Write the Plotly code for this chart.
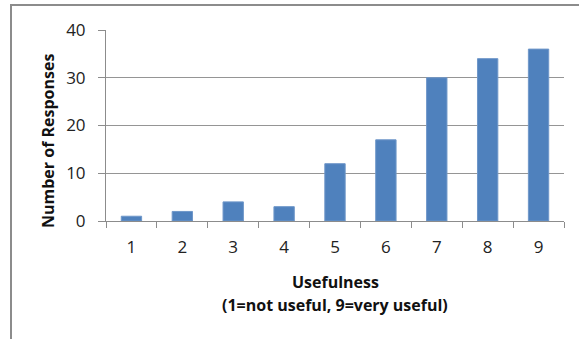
import plotly.graph_objects as go

categories = ["1", "2", "3", "4", "5", "6", "7", "8", "9"]
responses = [1, 2, 4, 3, 12, 17, 30, 34, 36]
y_ticks = [0, 10, 20, 30, 40]

W, H = 579, 339
L, R, T, B = 106, 15, 30, 118
pw, ph = W - L - R, H - T - B

def px(x):
    return (x - L) / pw

def py(y):
    return (H - B - y) / ph

fig = go.Figure()
fig.add_trace(go.Bar(
    x=categories, y=responses,
    marker=dict(color="#4F81BD", line=dict(color="#6F97C9", width=1)),
    width=0.4,
))

font = "Open Sans"
fig.update_layout(
    width=W, height=H,
    margin=dict(l=L, r=R, t=T, b=B),
    paper_bgcolor="white", plot_bgcolor="white",
    showlegend=False,
    font=dict(family=font, color="#222222"),
    xaxis=dict(
        type="category",
        showgrid=False,
        showline=True, linecolor="#8C8C8C", linewidth=1,
        ticks="outside", tickson="boundaries", ticklen=6, tickcolor="#8C8C8C",
        tickfont=dict(size=17, family=font, color="#222222"),
        ticklabelstandoff=11,
    ),
    yaxis=dict(
        range=[0, 40],
        tickvals=y_ticks,
        showgrid=True, gridcolor="#959595", gridwidth=1,
        showline=True, linecolor="#8C8C8C", linewidth=1,
        ticks="outside", ticklen=7, tickcolor="#8C8C8C",
        tickfont=dict(size=17, family=font, color="#222222"),
        ticklabelstandoff=9,
        zeroline=False,
    ),
    shapes=[dict(
        type="rect", xref="paper", yref="paper",
        x0=px(11), x1=px(620), y0=py(380), y1=py(5),
        line=dict(color="#8C8C8C", width=2), fillcolor="rgba(0,0,0,0)",
        layer="above",
    )],
    annotations=[
        dict(text="<b>Number of Responses</b>", textangle=-90,
             xref="paper", yref="paper", x=px(48), y=py(141),
             showarrow=False, xanchor="center", yanchor="middle",
             font=dict(size=16, family=font, color="#111111")),
        dict(text="<b>Usefulness</b>",
             xref="paper", yref="paper", x=px(335), y=py(282),
             showarrow=False, xanchor="center", yanchor="middle",
             font=dict(size=16, family=font, color="#111111")),
        dict(text="<b>(1=not useful, 9=very useful)</b>",
             xref="paper", yref="paper", x=px(335), y=py(305),
             showarrow=False, xanchor="center", yanchor="middle",
             font=dict(size=16, family=font, color="#111111")),
    ],
)

fig.write_html(
    "out.html",
    config={"displayModeBar": False},
    post_script="document.body.style.margin='0';document.body.style.overflow='hidden';",
)
